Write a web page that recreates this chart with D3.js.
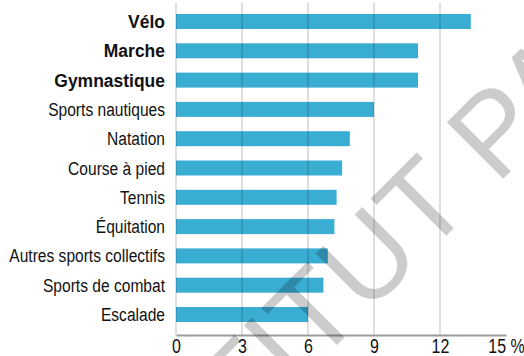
<!DOCTYPE html>
<html>
<head>
<meta charset="utf-8">
<script src="https://cdn.jsdelivr.net/npm/d3@7"></script>
<style>
  html, body { margin: 0; padding: 0; background: #fff; }
  svg { display: block; }
  .lbl { font-family: "Liberation Sans", Arial, sans-serif; fill: #111; }
</style>
</head>
<body>
<svg id="chart" width="524" height="356"></svg>
<script>
// Sports practised (share in %), top to bottom
const categories = ["Vélo", "Marche", "Gymnastique", "Sports nautiques", "Natation",
  "Course à pied", "Tennis", "Équitation", "Autres sports collectifs",
  "Sports de combat", "Escalade"];
const values = [13.4, 11.0, 11.0, 9.0, 7.9, 7.55, 7.3, 7.2, 6.9, 6.7, 6.0];
const boldCategories = ["Vélo", "Marche", "Gymnastique"];
const tickValues = [0, 3, 6, 9, 12, 15];
const tickLabels = ["0", "3", "6", "9", "12", "15 %"];
const gridValues = [0, 3, 6, 9, 12];
const watermark = "INSTITUT PAUL DELOUVRIER";

const svg = d3.select("#chart");
const NARROW = 0.82;      // horizontal squeeze giving a condensed face
const NARROW_BOLD = 0.92; // the bold cut runs a little wider

const x = d3.scaleLinear().domain([0, 15]).range([176, 506]);
const y = d3.scaleBand().domain(categories).range([6.85, 329.15])
  .paddingInner(0.488).paddingOuter(0.244);

const data = categories.map((c, i) => ({ cat: c, v: values[i] }));
const isBold = c => boldCategories.includes(c);

// bars
svg.append("g").selectAll("rect").data(data).join("rect")
  .attr("x", x(0))
  .attr("y", d => y(d.cat))
  .attr("width", d => x(d.v) - x(0))
  .attr("height", y.bandwidth())
  .attr("fill", "#3aadd3");

// vertical grid lines, drawn over the bars
svg.append("g").selectAll("line").data(gridValues).join("line")
  .attr("x1", d => x(d)).attr("x2", d => x(d))
  .attr("y1", 3).attr("y2", 335)
  .attr("stroke", "#000").attr("stroke-opacity", 0.17)
  .attr("stroke-width", 1.5);

// baseline axis
const axis = d3.axisBottom(x).tickValues(tickValues)
  .tickFormat((d, i) => tickLabels[i]).tickSize(0).tickPadding(0);
const gx = svg.append("g").attr("transform", "translate(0,335)").call(axis);
gx.select(".domain").attr("stroke", "#9c9c9c").attr("stroke-width", 2.2);
gx.selectAll(".tick text")
  .attr("class", "lbl")
  .attr("font-size", 19.5)
  .attr("y", 0).attr("dy", null)
  .attr("fill", "#111")
  .attr("transform", `translate(0,18.3) scale(${NARROW},1)`);

// category labels
svg.append("g").selectAll("text").data(data).join("text")
  .attr("class", "lbl")
  .attr("transform", d => `translate(165,${y(d.cat) + y.bandwidth() / 2 + 6.5}) scale(${isBold(d.cat) ? NARROW_BOLD : NARROW},1)`)
  .attr("text-anchor", "end")
  .attr("font-size", 19)
  .attr("font-weight", d => isBold(d.cat) ? "bold" : "normal")
  .text(d => d.cat);

// diagonal watermark
svg.append("text")
  .attr("transform", "translate(106,576) rotate(-45)")
  .attr("font-family", "'Liberation Sans', Arial, sans-serif")
  .attr("font-size", 116)
  .attr("fill", "#000").attr("fill-opacity", 0.2)
  .text(watermark);
</script>
</body>
</html>
